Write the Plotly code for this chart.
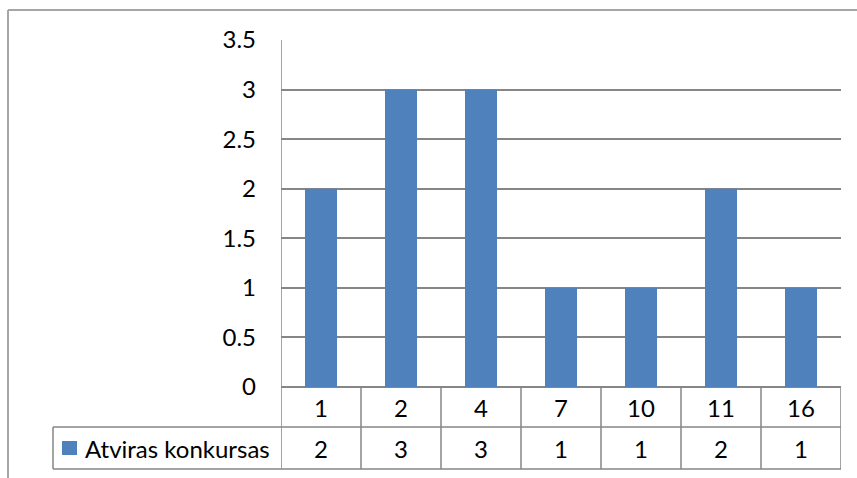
import plotly.graph_objects as go

# Chart data
categories = ["1", "2", "4", "7", "10", "11", "16"]
values = [2, 3, 3, 1, 1, 2, 1]
series_name = "Atviras konkursas"
y_ticks = [0, 0.5, 1, 1.5, 2, 2.5, 3, 3.5]
y_tick_labels = ["0", "0.5", "1", "1.5", "2", "2.5", "3", "3.5"]

W, H = 857, 478
BAR_COLOR = "#4F81BD"
LINE_COLOR = "#868686"
FONT = "Lato"
FSIZE = 24

# pixel layout helpers (converted to paper coordinates)
def px(x):
    return x / W

def py(y):
    return 1 - y / H

plot_left, plot_right = 281, 841
plot_top, plot_bottom = 40, 387
row1_bottom, row2_bottom = 427, 469
legend_left = 53

idx = list(range(len(categories)))

fig = go.Figure()
fig.add_trace(go.Bar(
    x=idx, y=values, name=series_name,
    marker=dict(color=BAR_COLOR, line=dict(width=0)),
    width=0.4, showlegend=False,
))

shapes = []
# outer chart frame (top and left edges)
shapes.append(dict(type="line", xref="paper", yref="paper",
                   x0=px(8), x1=px(8), y0=py(H), y1=py(10),
                   line=dict(color="#a6a6a6", width=2)))
shapes.append(dict(type="line", xref="paper", yref="paper",
                   x0=px(8), x1=1, y0=py(10), y1=py(10),
                   line=dict(color="#a6a6a6", width=2)))

# data table grid
n = len(categories)
for i in range(n + 1):
    y_top = plot_top if i == 0 else plot_bottom
    shapes.append(dict(type="line", xref="x", yref="paper",
                       x0=i - 0.5, x1=i - 0.5, y0=py(row2_bottom), y1=py(y_top),
                       line=dict(color=LINE_COLOR, width=1.5)))
for yy in (row1_bottom, row2_bottom):
    shapes.append(dict(type="line", xref="paper", yref="paper",
                       x0=px(legend_left), x1=px(plot_right), y0=py(yy), y1=py(yy),
                       line=dict(color=LINE_COLOR, width=1.5)))
shapes.append(dict(type="line", xref="paper", yref="paper",
                   x0=px(legend_left), x1=px(legend_left),
                   y0=py(row2_bottom), y1=py(row1_bottom),
                   line=dict(color=LINE_COLOR, width=1.5)))
# legend key
shapes.append(dict(type="rect", xref="paper", yref="paper",
                   x0=px(62), x1=px(77), y0=py(455), y1=py(441),
                   fillcolor=BAR_COLOR, line=dict(width=0)))

annotations = []
row1_mid = (plot_bottom + row1_bottom) / 2
row2_mid = (row1_bottom + row2_bottom) / 2
for i, (c, v) in enumerate(zip(categories, values)):
    annotations.append(dict(x=i, y=py(row1_mid), xref="x", yref="paper",
                            text=c, showarrow=False, xanchor="center", yanchor="middle",
                            font=dict(family=FONT, size=FSIZE, color="black")))
    annotations.append(dict(x=i, y=py(row2_mid), xref="x", yref="paper",
                            text=f"{v:g}", showarrow=False, xanchor="center", yanchor="middle",
                            font=dict(family=FONT, size=FSIZE, color="black")))
annotations.append(dict(x=px(83), y=py(row2_mid), xref="paper", yref="paper",
                        text=series_name, showarrow=False, xanchor="left", yanchor="middle",
                        font=dict(family=FONT, size=FSIZE, color="black")))

fig.update_layout(
    width=W, height=H, autosize=False,
    margin=dict(l=0, r=0, t=0, b=0, pad=0),
    paper_bgcolor="white", plot_bgcolor="white",
    xaxis=dict(domain=[px(plot_left), px(plot_right)], range=[-0.5, n - 0.5],
               showticklabels=False, showgrid=False, zeroline=False,
               showline=False, ticks="", automargin=False),
    yaxis=dict(domain=[py(plot_bottom), py(plot_top)], range=[0, 3.5],
               tickvals=y_ticks, ticktext=y_tick_labels,
               showgrid=True, gridcolor=LINE_COLOR, gridwidth=1.5,
               zeroline=True, zerolinecolor=LINE_COLOR, zerolinewidth=1.5,
               showline=False, ticks="", ticklabelstandoff=24, automargin=False,
               tickfont=dict(family=FONT, size=FSIZE, color="black")),
    shapes=shapes, annotations=annotations,
    bargap=0.6,
)

fig.write_html("out.html")
